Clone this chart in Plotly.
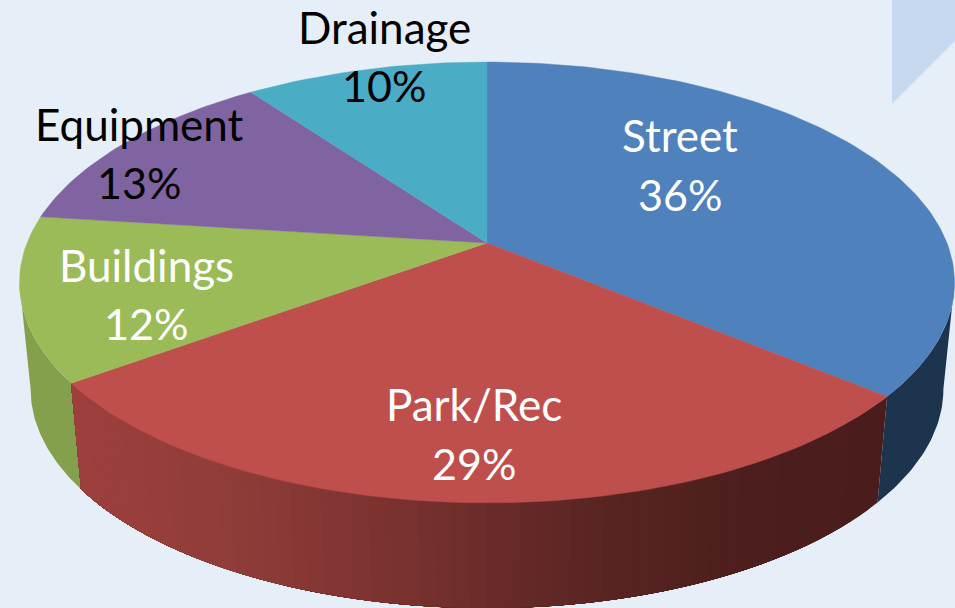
import math
import plotly.graph_objects as go

categories = ["Street", "Park/Rec", "Buildings", "Equipment", "Drainage"]
values = [36, 29, 12, 13, 10]
top_colors = ["#4F81BD", "#BE4F4C", "#9BBB59", "#8064A2", "#4BACC6"]
text_colors = ["white", "white", "white", "black", "black"]
label_x = [680, 474, 146, 139, 384]
label_name_y = [135, 404, 265, 124, 27]
label_pct_y = [194, 463, 323, 182, 85]
side_stops_red = [(72, "#9E403D"), (250, "#8E3C38"), (400, "#7A322F"), (600, "#5A2523"), (760, "#4C1E1D"), (890, "#4A1D1C")]
side_blue = "#1D344F"
side_green = "#85A04C"
BG = "#E6EEF8"
CORNER = "#C6D9F0"

P = 0.179


def proj(theta, apex_y, a, by):
    u, v = math.sin(theta), math.cos(theta)
    d = 1 + P * v
    return 487 + a * u / d, apex_y - by * v / d


def top(theta):
    return proj(theta, 243, 460, 213.4)


def bottom(theta):
    return proj(theta, 350, 449, 212)


def hex2rgb(h):
    return tuple(int(h[i:i + 2], 16) for i in (1, 3, 5))


def red_at(x):
    s = side_stops_red
    if x <= s[0][0]:
        return s[0][1]
    for (x0, c0), (x1, c1) in zip(s, s[1:]):
        if x <= x1:
            t = (x - x0) / (x1 - x0)
            a, b = hex2rgb(c0), hex2rgb(c1)
            return "rgb(%d,%d,%d)" % tuple(round(a[i] + (b[i] - a[i]) * t) for i in range(3))
    return s[-1][1]


fig = go.Figure()


def poly(xs, ys, color, lw=0.0):
    fig.add_trace(go.Scatter(x=xs, y=ys, mode="lines", fill="toself", fillcolor=color,
                             line=dict(color=color, width=lw), hoverinfo="skip", showlegend=False))


# corner decoration
poly([892, 955, 955, 892, 892], [0, 0, 41, 104, 0], CORNER, 0)

# cumulative slice bounds
total = sum(values)
bounds = [0]
for val in values:
    bounds.append(bounds[-1] + val)
ang = [b / total * 2 * math.pi for b in bounds]

# angle at which the perspective ellipse reaches its widest point (silhouette tangent)
tangent = math.acos(-P)


# side wall: each band is painted from its start to the far end of the wall,
# so later bands overlap earlier ones and no seams appear between them.
def wall(t0, t1, n, colorf):
    for i in range(n):
        a0 = t0 + (t1 - t0) * i / n
        arc = [a0 + (t1 - a0) * k / 40 for k in range(41)]
        up = [top(a) for a in arc]
        lo = [bottom(a) for a in reversed(arc)]
        pts = up + lo + [up[0]]
        poly([q[0] for q in pts], [q[1] for q in pts], colorf(up[0][0]))


wall(tangent, ang[1], 1, lambda x: side_blue)
wall(ang[2], 2 * math.pi - tangent, 1, lambda x: side_green)
wall(ang[1], ang[2], 60, red_at)

# top face slices
for i, c in enumerate(top_colors):
    n = max(8, int(values[i] * 3))
    pts = [top(ang[i] + (ang[i + 1] - ang[i]) * k / n) for k in range(n + 1)]
    xs = [487] + [p[0] for p in pts] + [487]
    ys = [243] + [p[1] for p in pts] + [243]
    poly(xs, ys, c, 0.4)

ann = []
for i, cat in enumerate(categories):
    for txt, y, size in ((cat, label_name_y[i], 44), ("%d%%" % values[i], label_pct_y[i], 43)):
        ann.append(dict(x=label_x[i], y=y, text=txt, showarrow=False, xref="x", yref="y",
                        xanchor="center", yanchor="middle",
                        font=dict(family="Lato, Carlito, sans-serif", size=size, color=text_colors[i])))

fig.update_layout(
    width=955, height=608, margin=dict(l=0, r=0, t=0, b=0),
    paper_bgcolor=BG, plot_bgcolor=BG, showlegend=False, annotations=ann,
    xaxis=dict(range=[0, 955], visible=False, fixedrange=True),
    yaxis=dict(range=[608, 0], visible=False, fixedrange=True),
)
fig.write_html("out.html", config={"displayModeBar": False},
               post_script="document.body.style.margin='0';document.documentElement.style.background='%s';" % BG)
